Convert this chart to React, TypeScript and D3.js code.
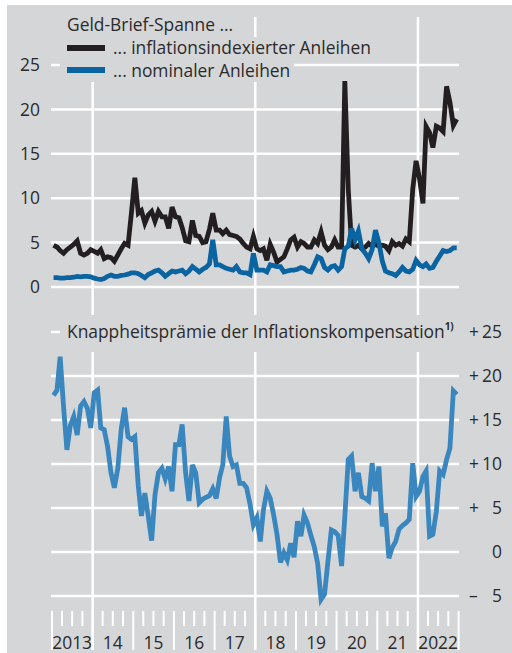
import React from 'react';
import * as d3 from 'd3';

// monthly observations, Jan 2013 - Dec 2022
const months = d3.timeMonth.range(new Date(2013, 0, 1), new Date(2023, 0, 1));

// bid-ask spread, inflation-indexed bonds
const spreadLinkers = [
  4.7, 4.5, 4.1, 3.8, 4.2, 4.5, 4.8, 5.2, 3.8, 3.6, 3.8, 4.2,
  4.0, 3.8, 4.2, 3.2, 3.4, 3.3, 2.9, 3.6, 4.3, 4.9, 4.7, 8.3,
  12.3, 8.3, 8.6, 7.2, 8.1, 8.5, 7.4, 8.5, 7.9, 7.9, 6.6, 9.0,
  7.9, 7.8, 6.7, 5.2, 5.1, 7.5, 5.8, 5.7, 5.0, 5.1, 6.5, 8.3,
  6.4, 6.4, 6.0, 6.4, 5.9, 5.8, 5.7, 5.4, 4.9, 4.5, 4.3, 5.7,
  4.3, 4.1, 4.3, 3.0, 4.8, 3.9, 2.8, 3.1, 3.4, 4.3, 5.3, 5.6,
  4.5, 5.1, 4.9, 4.5, 4.5, 5.3, 4.9, 6.2, 4.7, 4.2, 4.5, 5.3,
  4.5, 4.5, 23.2, 11.0, 4.7, 4.5, 4.7, 4.3, 4.5, 4.9, 4.6, 4.8,
  4.6, 4.7, 4.6, 4.1, 5.1, 4.7, 4.9, 4.6, 5.4, 5.1, 11.0, 14.2,
  12.2, 9.4, 18.1, 17.4, 15.7, 18.1, 17.9, 17.5, 22.6, 20.8, 18.2, 18.9,
];

// bid-ask spread, nominal bonds
const spreadNominal = [
  1.05, 1.05, 1.0, 1.0, 1.05, 1.05, 1.1, 1.2, 1.15, 1.2, 1.2, 1.15,
  1.0, 0.9, 0.85, 0.95, 1.2, 1.35, 1.2, 1.2, 1.3, 1.35, 1.45, 1.6,
  1.6, 1.5, 1.3, 1.05, 1.4, 1.6, 1.8, 1.9, 1.6, 1.2, 1.5, 1.8,
  1.7, 1.8, 1.9, 1.5, 1.8, 2.3, 2.0, 1.7, 2.0, 2.2, 2.6, 5.3,
  2.5, 2.5, 2.3, 2.1, 2.0, 1.9, 2.3, 1.7, 1.6, 1.6, 1.4, 3.8,
  1.9, 1.9, 1.9, 1.7, 2.5, 2.4, 2.3, 2.3, 1.7, 1.8, 1.9, 1.9,
  2.0, 2.2, 2.1, 1.8, 1.7, 2.5, 3.4, 3.2, 2.2, 1.9, 2.3, 2.4,
  1.9, 2.3, 4.3, 4.6, 6.6, 5.3, 6.3, 4.3, 3.8, 3.2, 4.2, 6.4,
  5.0, 2.9, 1.8, 1.6, 1.5, 1.3, 1.7, 2.2, 1.8, 1.7, 2.0, 3.0,
  2.5, 2.3, 2.6, 2.1, 2.2, 2.9, 3.5, 4.1, 4.0, 4.1, 4.4, 4.4,
];

// scarcity premium of inflation compensation
const scarcityPremium = [
  17.8, 18.4, 22.2, 16.5, 11.6, 14.4, 15.4, 13.3, 16.6, 17.1, 16.3, 14.1,
  18.1, 18.4, 14.1, 13.9, 12.0, 9.0, 7.3, 9.5, 14.0, 16.4, 13.1, 12.8,
  13.1, 7.5, 4.1, 6.7, 4.1, 1.3, 6.5, 9.0, 9.5, 8.3, 9.7, 6.9,
  12.2, 12.2, 14.5, 9.0, 5.8, 9.9, 9.0, 5.6, 6.0, 6.2, 6.4, 7.2,
  6.1, 8.5, 9.9, 15.4, 10.9, 9.7, 9.9, 7.8, 7.8, 7.3, 5.4, 3.1,
  3.9, 1.2, 4.8, 6.9, 6.1, 4.2, 2.0, -1.2, -0.1, -0.9, 1.0, -0.6,
  3.5, 1.8, 4.2, 3.3, 1.9, 0.6, -1.3, -5.4, -4.8, -1.1, 2.5, 2.3,
  1.9, -1.6, 4.0, 10.5, 10.9, 6.9, 9.0, 6.3, 6.1, 5.8, 10.1, 6.9,
  9.7, 2.9, 4.4, -0.7, 0.5, 1.2, 2.6, 3.0, 3.3, 3.7, 10.1, 6.3,
  6.9, 8.6, 9.2, 1.8, 2.0, 4.6, 9.2, 8.8, 10.5, 11.8, 18.3, 17.9,
];

const topTicks = [0, 5, 10, 15, 20, 25];
const bottomTicks = [-5, 0, 5, 10, 15, 20, 25];
const yearLabels = ['2013', '14', '15', '16', '17', '18', '19', '20', '21', '2022'];
const gridYears = [2014, 2018, 2022];

const W = 512;
const H = 653;
const BG = '#d5d6d8';
const TXT = '#2b2b2b';
const FONT = '"Open Sans", sans-serif';
const FS = 17.4;

const x = d3.scaleTime().domain([new Date(2013, 0, 1), new Date(2023, 0, 1)]).range([52, 458.6]);
const yTop = d3.scaleLinear().domain([0, 25]).range([287, 65]);
const yBot = d3.scaleLinear().domain([-5, 25]).range([596, 332]);

const mid = (m: Date) => d3.timeDay.offset(m, 14);

const lineTop = d3.line<number>().x((_, i) => x(mid(months[i]))).y((d) => yTop(d));
const lineBot = d3.line<number>().x((_, i) => x(mid(months[i]))).y((d) => yBot(d));

const signed = (v: number) => (v > 0 ? '+' : v < 0 ? '–' : '');

export default function App() {
  const quarters = d3.timeMonth.every(3)!.range(new Date(2013, 0, 1), new Date(2023, 0, 2));
  const years = d3.timeYear.range(new Date(2013, 0, 1), new Date(2023, 0, 1));

  return (
    <svg width={W} height={H} style={{ position: 'absolute', left: 0, top: 0, fontFamily: FONT }}>
      <rect x={7} y={5} width={W - 7} height={H - 5} fill={BG} />

      {/* upper panel grid */}
      {topTicks.map((t) => (
        <line key={'gt' + t} x1={51} x2={459} y1={yTop(t)} y2={yTop(t)} stroke="#fff" strokeWidth={2.5} />
      ))}
      {gridYears.map((yr) => (
        <line key={'vt' + yr} x1={x(new Date(yr, 0, 1))} x2={x(new Date(yr, 0, 1))} y1={17} y2={315} stroke="#fff" strokeWidth={2.5} />
      ))}
      {topTicks.map((t) => (
        <text key={'lt' + t} x={40} y={yTop(t)} dy="0.36em" textAnchor="end" fontSize={FS} fill={TXT}>{t}</text>
      ))}

      {/* legend, with background behind each row */}
      <rect x={60} y={17} width={182} height={20} fill={BG} />
      <rect x={60} y={37} width={318} height={22} fill={BG} />
      <rect x={60} y={59} width={234} height={23} fill={BG} />
      <text x={67} y={30.5} fontSize={FS} fill={TXT}>Geld-Brief-Spanne ...</text>
      <line x1={67} x2={105} y1={48} y2={48} stroke="#231f20" strokeWidth={6} />
      <text x={113} y={54} fontSize={FS} fill={TXT}>... inflationsindexierter Anleihen</text>
      <line x1={67} x2={105} y1={70} y2={70} stroke="#0a64a2" strokeWidth={6} />
      <text x={113} y={76.5} fontSize={FS} fill={TXT}>... nominaler Anleihen</text>

      <path d={lineTop(spreadLinkers) || ''} fill="none" stroke="#231f20" strokeWidth={4.8} />
      <path d={lineTop(spreadNominal) || ''} fill="none" stroke="#0a64a2" strokeWidth={4.8} />

      {/* lower panel grid */}
      {bottomTicks.map((t) => (
        <line key={'gb' + t} x1={51} x2={459} y1={yBot(t)} y2={yBot(t)} stroke="#fff" strokeWidth={2.5} />
      ))}
      {gridYears.map((yr) => (
        <line key={'vb' + yr} x1={x(new Date(yr, 0, 1))} x2={x(new Date(yr, 0, 1))} y1={352} y2={650} stroke="#fff" strokeWidth={2.5} />
      ))}
      {bottomTicks.map((t) => (
        <g key={'lb' + t} fontSize={FS} fill={TXT}>
          <text x={469} y={yBot(t)} dy="0.36em">{signed(t)}</text>
          <text x={502} y={yBot(t)} dy="0.36em" textAnchor="end">{Math.abs(t)}</text>
        </g>
      ))}
      <rect x={60} y={320} width={399} height={26} fill={BG} />
      <text x={67} y={338} fontSize={FS} fill={TXT}>
        Knappheitsprämie der Inflationskompensation
        <tspan fontSize={10} fontWeight="bold" dy={-8}>1)</tspan>
      </text>

      <path d={lineBot(scarcityPremium) || ''} fill="none" stroke="#3a86bf" strokeWidth={4.8} />

      {/* time axis */}
      {quarters.map((q) => {
        const major = q.getMonth() === 0;
        return (
          <line key={'q' + q.getTime()} x1={x(q)} x2={x(q)} y1={611} y2={major ? 650 : 626} stroke="#fff" strokeWidth={2} />
        );
      })}
      {years.map((yr, i) => (
        <text key={'y' + i} x={x(d3.timeMonth.offset(yr, 6))} y={649} textAnchor="middle" fontSize={FS} fill={TXT}>
          {yearLabels[i]}
        </text>
      ))}
    </svg>
  );
}
